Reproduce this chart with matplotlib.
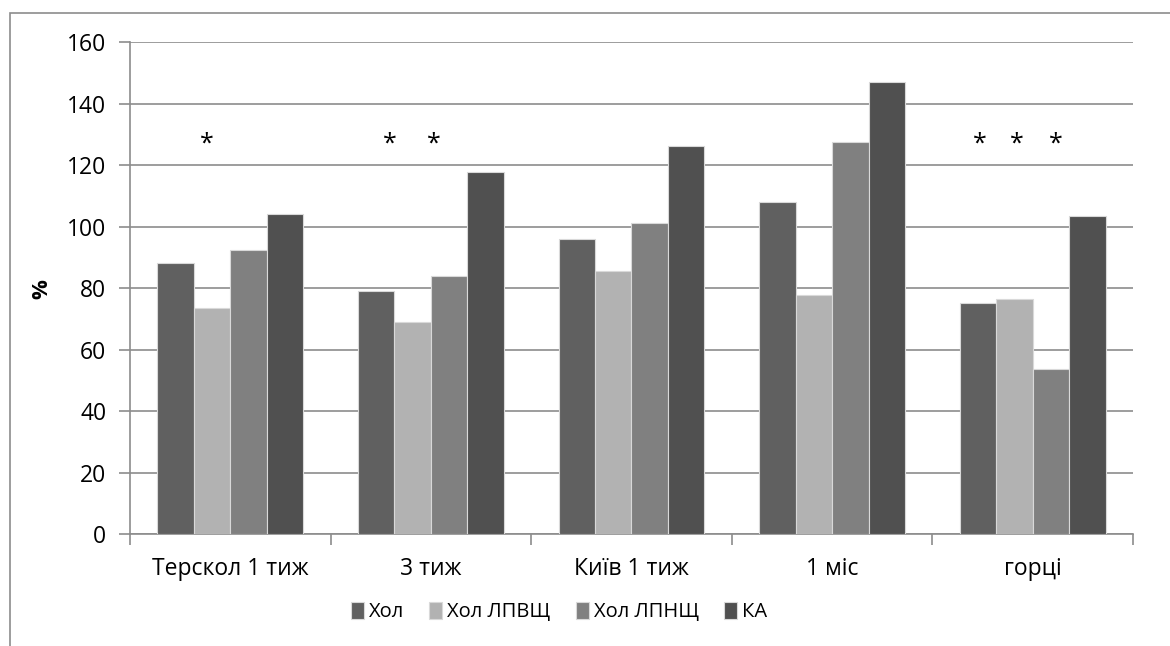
import matplotlib
matplotlib.use("Agg")
import matplotlib.pyplot as plt
import numpy as np
from matplotlib.patches import Rectangle

plt.rcParams["font.family"] = ["Open Sans", "DejaVu Sans"]

categories = ["Терскол 1 тиж", "3 тиж", "Київ 1 тиж", "1 міс", "горці"]
series_names = ["Хол", "Хол ЛПВЩ", "Хол ЛПНЩ", "КА"]
hol = [88.3, 79.2, 96.0, 108.1, 75.3]
hol_lpvsch = [73.7, 69.1, 85.6, 77.7, 76.5]
hol_lpnsch = [92.4, 84.0, 101.2, 127.6, 53.7]
ka = [104.1, 117.7, 126.4, 147.0, 103.5]
# significance marks: (x in category units, y level)
star_x = [-0.115, 0.793, 1.016, 3.734, 3.923, 4.113]
star_y = 127

series = [hol, hol_lpvsch, hol_lpnsch, ka]
colors = ["#606060", "#b2b2b2", "#808080", "#505050"]
grid_c = "#8c8c8c"

fig = plt.figure(figsize=(11.7, 6.46), dpi=100)
ax = fig.add_axes([130 / 1170, 1 - 534.3 / 646, 1003 / 1170, 492 / 646])

# chart-area frame (partly cut off at right/bottom in the original)
fig.patches.append(Rectangle((10 / 1170, -0.05), 1.2, 1 - 13 / 646 + 0.05,
                             transform=fig.transFigure, fill=False,
                             edgecolor=grid_c, lw=1.2))

n = len(categories)
x = np.arange(n)
w = 1 / 5.5
for i, (vals, name, c) in enumerate(zip(series, series_names, colors)):
    ax.bar(x + (i - 1.5) * w, vals, width=w, color=c, edgecolor="#d9d9d9",
           linewidth=0.8, label=name, zorder=3)

for sx in star_x:
    ax.text(sx, star_y, "*", ha="center", va="center", fontsize=18, zorder=4)

ax.set_xlim(-0.5, n - 0.5)
ax.set_ylim(0, 160)
ax.set_yticks(np.arange(0, 161, 20))
ax.yaxis.grid(True, color=grid_c, lw=1.2, zorder=0)
ax.set_axisbelow(True)

ax.set_xticks(np.arange(n + 1) - 0.5)
ax.set_xticklabels([])
ax.set_xticks(x, minor=True)
ax.set_xticklabels(categories, minor=True)
ax.tick_params(axis="x", which="major", length=8, width=1.2, color=grid_c,
               direction="out")
ax.tick_params(axis="x", which="minor", length=0, pad=16, labelsize=16.5)
ax.tick_params(axis="y", length=8, width=1.2, color=grid_c, pad=9,
               labelsize=16.5)

for s in ["top", "right"]:
    ax.spines[s].set_visible(False)
for s in ["left", "bottom"]:
    ax.spines[s].set_color(grid_c)
    ax.spines[s].set_linewidth(1.2)

fig.text(42 / 1170, 1 - 289 / 646, "%", rotation=90, ha="center", va="center",
         fontsize=16, fontweight="bold")

ax.legend(loc="center", bbox_to_anchor=(559 / 1170, 1 - 612 / 646),
          bbox_transform=fig.transFigure, ncol=4, frameon=False,
          fontsize=14.5, handlelength=0.65, handleheight=0.9,
          handletextpad=0.25, columnspacing=1.25)

fig.savefig("out.png", dpi=100)
